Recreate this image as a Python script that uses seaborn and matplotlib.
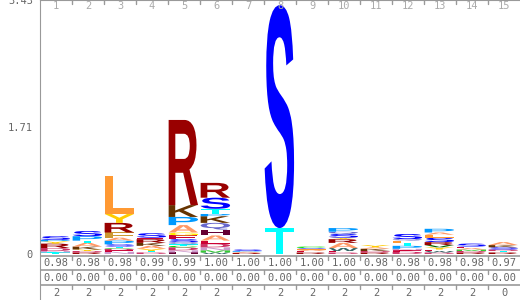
import matplotlib
matplotlib.use("Agg")
import matplotlib.pyplot as plt
import seaborn as sns
from matplotlib.textpath import TextPath
from matplotlib.patches import PathPatch
from matplotlib.font_manager import FontProperties
from matplotlib.transforms import Affine2D

# ---- data ----
positions = list(range(1, 16))
# letters listed bottom -> top, with heights (bits)
col_letters = [
    "TNDRYPS",
    "RDYKATPS",
    "NEDCTSPAFRYL",
    "DTYAKRES",
    "HNDCTQSEGAPKR",
    "WMNDEAHQKPTSR",
    "RAPS",
    "TS",
    "REALSC",
    "DEWARYSQP",
    "RDKAY",
    "DENPTLQS",
    "DWEYVRSLAP",
    "RDMAES",
    "RTDSKA",
]
col_heights = [
    [0.02, 0.02, 0.04, 0.06, 0.03, 0.02, 0.05],
    [0.02, 0.02, 0.02, 0.04, 0.05, 0.03, 0.06, 0.07],
    [0.03, 0.02, 0.02, 0.01, 0.02, 0.03, 0.05, 0.04, 0.07, 0.13, 0.12, 0.51],
    [0.02, 0.02, 0.03, 0.04, 0.04, 0.05, 0.02, 0.06],
    [0.02, 0.03, 0.04, 0.02, 0.02, 0.03, 0.04, 0.05, 0.04, 0.10, 0.11, 0.16, 1.15],
    [0.02, 0.03, 0.04, 0.05, 0.04, 0.07, 0.08, 0.09, 0.09, 0.03, 0.07, 0.15, 0.20],
    [0.015, 0.015, 0.01, 0.02],
    [0.35, 3.01],
    [0.02, 0.02, 0.02, 0.01, 0.01, 0.02],
    [0.02, 0.02, 0.04, 0.07, 0.05, 0.02, 0.05, 0.03, 0.05],
    [0.02, 0.02, 0.03, 0.02, 0.03],
    [0.03, 0.02, 0.02, 0.04, 0.04, 0.03, 0.02, 0.07],
    [0.02, 0.02, 0.02, 0.03, 0.03, 0.04, 0.06, 0.04, 0.03, 0.05],
    [0.02, 0.02, 0.02, 0.02, 0.02, 0.04],
    [0.02, 0.02, 0.02, 0.03, 0.03, 0.04],
]
row1 = ["0.98", "0.98", "0.98", "0.99", "0.99", "1.00", "1.00", "1.00",
        "1.00", "1.00", "0.98", "0.98", "0.98", "0.98", "0.97"]
row2 = ["0.00"] * 15
row3 = ["2"] * 14 + ["0"]
ytick_vals = [0, 1.71, 3.43]
ytick_labels = ["0", "1.71", "3.43"]

colors = {
    "A": "#FF9966", "C": "#00DD00", "D": "#CC3366", "E": "#CC0033",
    "F": "#CC9933", "G": "#FFEE00", "H": "#660033", "K": "#663300",
    "L": "#FF9933", "M": "#33CC33", "N": "#CC99CC", "P": "#0099FF",
    "Q": "#6666CC", "R": "#990000", "S": "#0000FF", "T": "#00FFFF",
    "V": "#006600", "W": "#336666", "Y": "#FFCC00",
}

sns.set_style("white")
plt.rcParams["font.family"] = ["DejaVu Sans Mono", "DejaVu Sans"]

fig = plt.figure(figsize=(5.2, 3.0), dpi=100)
ax = fig.add_axes([40 / 520, 0, 480 / 520, 1])
ymin = -46 / 74.0
ax.set_xlim(0.5, 15.5)
ax.set_ylim(ymin, 3.43)

fp = FontProperties(family="Liberation Sans", weight="bold")


def draw_letter(ch, xc, y0, h):
    tp = TextPath((0, 0), ch, size=1, prop=fp)
    bb = tp.get_extents()
    x0 = xc - 0.5 + 0.02
    w = 0.92
    tr = (Affine2D().translate(-bb.x0, -bb.y0)
          .scale(w / bb.width, h / bb.height)
          .translate(x0, y0))
    patch = PathPatch(tr.transform_path(tp), facecolor=colors[ch],
                      edgecolor="none", lw=0)
    ax.add_patch(patch)


for pos, letters, heights in zip(positions, col_letters, col_heights):
    y = 0.0
    for ch, h in zip(letters, heights):
        draw_letter(ch, pos, y, h)
        y += h

gray = "#999999"
tc = "#666666"
# spines
for s in ["right", "bottom"]:
    ax.spines[s].set_visible(False)
ax.spines["left"].set_color(gray)
ax.spines["top"].set_color(gray)
ax.set_xticks([])
ax.set_yticks(ytick_vals)
ax.set_yticklabels(ytick_labels, color=tc, fontsize=7.5)
ax.tick_params(axis="y", length=4, color=gray, pad=1)

# top column numbers and ticks
upx = 1 / 74.0
for pos in positions:
    ax.text(pos, 3.43 - 6 * upx, str(pos), ha="center", va="center",
            fontsize=7.5, color="#aaaaaa")
for b in range(1, 15):
    ax.plot([b + 0.5, b + 0.5], [3.43, 3.43 - 4 * upx], color=gray, lw=1)

# table below
line_ys = [-2 * upx, -16 * upx, -31 * upx]
for ly in line_ys:
    ax.axhline(ly, color=gray, lw=1.2)
    for b in range(1, 15):
        ax.plot([b + 0.5, b + 0.5], [ly, ly - 4 * upx], color=gray, lw=1)
text_ys = [-9 * upx, -24 * upx, -39 * upx]
for row, ty in zip([row1, row2, row3], text_ys):
    for pos, lab in zip(positions, row):
        ax.text(pos, ty, lab, ha="center", va="center", fontsize=7.5,
                color=tc)

fig.savefig("out.png", dpi=100)
